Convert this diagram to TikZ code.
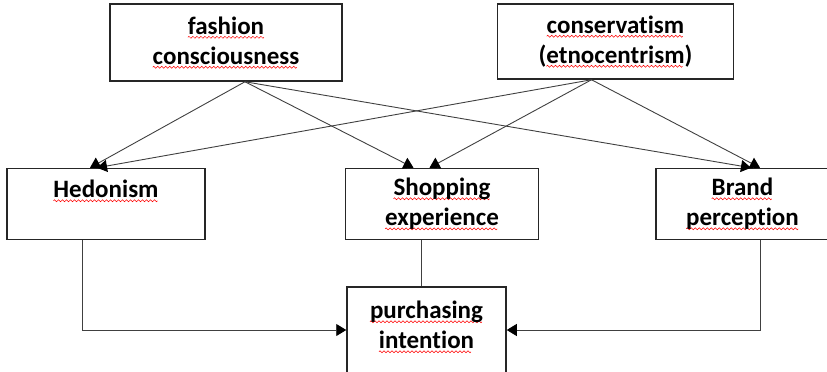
\documentclass[tikz,border=0pt]{standalone}
\usepackage{fontspec}
\setmainfont{Carlito}[Ligatures={NoCommon}]
\usetikzlibrary{arrows.meta, positioning}

% subrayado ondulado rojo
\newsavebox{\palabrabox}
\newcommand{\ondita}{%
    \begin{pgfpicture}
        \pgfpathrectangle{\pgfpoint{0pt}{-1pt}}{\pgfpoint{4pt}{2pt}}
        \pgfusepath{use as bounding box}
        \pgfsetlinewidth{0.5pt}
        \pgfsetstrokecolor{red}
        \pgfpathmoveto{\pgfpoint{0pt}{0pt}}
        \pgfpathsine{\pgfpoint{1pt}{1pt}}
        \pgfpathcosine{\pgfpoint{1pt}{-1pt}}
        \pgfpathsine{\pgfpoint{1pt}{-1pt}}
        \pgfpathcosine{\pgfpoint{1pt}{1pt}}
        \pgfusepath{stroke}
    \end{pgfpicture}}
\newcommand{\ortog}[1]{%
    \sbox{\palabrabox}{#1}%
    \rlap{\raisebox{-4pt}{\leaders\hbox{\ondita}\hskip\wd\palabrabox}}%
    \usebox{\palabrabox}}

\begin{document}
\begin{tikzpicture}[
        x=1pt, y=-1pt,
        % Estilo de las cajas
        caja/.style={
                rectangle,
                draw=black!85,
                line width=1.5pt,
                minimum height=71pt,
                align=center,
                inner sep=2pt,
                font=\fontsize{25pt}{30pt}\selectfont\bfseries
            },
        % Flechas
        flecha/.style={
                -{Triangle[length=10pt,width=12pt,fill=black,color=black]},
                line width=0.9pt,
                color=black!75
            },
        linea/.style={
                line width=0.9pt,
                color=black!75
            }
    ]
    \useasboundingbox (0,0) rectangle (827,372);

    % Factores
    \node[caja, minimum width=232pt, minimum height=77pt] (fashion) at (226,42.5)
        {\ortog{fashion}\\\ortog{consciousness}};
    \node[caja, minimum width=236pt, minimum height=75pt, right=154pt of fashion, yshift=1pt] (conserv)
        {\ortog{conservatism}\\(\ortog{etnocentrism})};

    % Variables intermedias
    \node[caja, minimum width=198pt, below=86pt of fashion, xshift=-120pt] (hedon)
        {\ortog{Hedonism}\\~};
    \node[caja, minimum width=193pt, right=139pt of hedon] (shopping)
        {\ortog{Shopping}\\\ortog{experience}};
    \node[caja, minimum width=173pt, right=116pt of shopping] (brand)
        {\ortog{Brand}\\\ortog{perception}};

    % Resultado
    \node[caja, minimum width=159pt, minimum height=86pt, below=46pt of shopping, xshift=-15.5pt] (purchase)
        {\ortog{purchasing}\\\ortog{intention}\\[-20pt]~};

    % Flechas desde fashion
    \draw[flecha] ([xshift=19pt]fashion.south) -- ([xshift=-16pt]hedon.north);
    \draw[flecha] ([xshift=19pt]fashion.south) -- ([xshift=-28.5pt]shopping.north);
    \draw[flecha] ([xshift=19pt]fashion.south) -- ([xshift=8.5pt]brand.north);

    % Flechas desde conservatism
    \draw[flecha] ([xshift=-24pt]conserv.south) -- ([xshift=-9pt]hedon.north);
    \draw[flecha] ([xshift=-24pt]conserv.south) -- ([xshift=-12.5pt]shopping.north);
    \draw[flecha] ([xshift=-24pt]conserv.south) -- ([xshift=17.5pt]brand.north);

    % Hacia purchasing
    \draw[flecha] ([xshift=-24pt]hedon.south) |- (purchase.west);
    \draw[flecha] ([xshift=17.5pt]brand.south) |- (purchase.east);
    \draw[linea] ([xshift=-5pt]purchase.north) -- ([xshift=-5pt]purchase.north |- shopping.south);

\end{tikzpicture}
\end{document}
